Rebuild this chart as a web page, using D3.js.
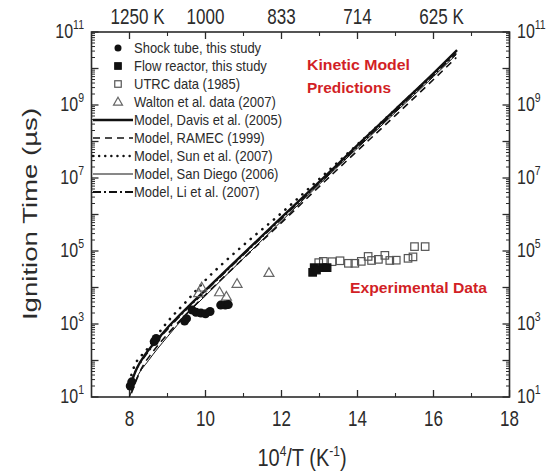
<!DOCTYPE html>
<html>
<head>
<meta charset="utf-8">
<script src="https://cdn.jsdelivr.net/npm/d3@7/dist/d3.min.js"></script>
<style>
  body { margin: 0; background: #fff; }
  svg { display: block; font-family: "Liberation Sans", Arial, sans-serif; }
</style>
</head>
<body>
<svg id="chart" width="550" height="472"></svg>
<script>
// donnees : x = 10^4/T (1/K), y = temps d'allumage (microsecondes)
const shockTubeX = [8.02, 8.06, 8.65, 8.7, 9.45, 9.5, 9.65, 9.75, 9.88, 10.0, 10.12, 10.4, 10.52, 10.6];
const shockTubeY = [20, 26, 330, 400, 1200, 1400, 2400, 2100, 2000, 1900, 2200, 3300, 3300, 3400];

const flowReactorX = [12.82, 12.86, 12.92, 13.08, 13.2];
const flowReactorY = [26000, 35000, 30000, 35000, 35000];

const utrcX = [12.98, 13.1, 13.33, 13.54, 13.76, 13.93, 14.1, 14.28, 14.37, 14.55, 14.72, 14.85, 15.02, 15.33, 15.46, 15.5, 15.78];
const utrcY = [48000, 52000, 51000, 54000, 46000, 46000, 52000, 71000, 55000, 59000, 76000, 55000, 56000, 63000, 69000, 132000, 132000];

const waltonX = [9.82, 9.9, 10.37, 10.55, 10.83, 11.67];
const waltonY = [7000, 10000, 7400, 5600, 12600, 25000];

// courbes des modeles
const davisX = [8.0, 8.1, 8.2, 8.4, 8.6, 8.8, 9.0, 9.3, 9.6, 10, 11, 12, 13, 14, 15, 16, 16.62];
const davisY = [16, 35, 63, 140, 260, 450, 790, 1660, 3400, 8500, 85000, 8.3e5, 7.9e6, 7.9e7, 7.6e8, 7.4e9, 3.2e10];

const ramecX = [8.05, 8.3, 8.6, 9, 9.5, 10, 11, 12, 13, 14, 15, 16, 16.6];
const ramecY = [12.6, 56, 166, 525, 1900, 6300, 63000, 6e5, 5.9e6, 5.6e7, 5.2e8, 5e9, 2e10];

const sunX = [8.05, 8.1, 8.45, 9, 9.5, 10, 10.5, 11, 12, 13, 14, 15, 16, 16.6];
const sunY = [40, 59, 195, 1150, 4200, 16000, 50000, 145000, 1.1e6, 9.5e6, 8.3e7, 7.6e8, 7.1e9, 2.8e10];

const sanDiegoX = [8.0, 8.1, 8.2, 8.5, 9, 9.5, 10, 11, 12, 13, 14, 15, 16, 16.6];
const sanDiegoY = [10, 20, 35, 100, 450, 1800, 6000, 63000, 6.6e5, 6.8e6, 6.6e7, 6.3e8, 6e9, 2.4e10];

const liX = [8.0, 8.1, 8.3, 8.6, 9, 9.5, 10, 11, 12, 13, 14, 15, 16, 16.6];
const liY = [18, 38, 89, 240, 710, 2500, 7900, 79000, 7.6e5, 7.4e6, 7.1e7, 6.8e8, 6.6e9, 2.6e10];

// graduations
const xMajor = [8, 10, 12, 14, 16, 18];
const xMinor = [9, 11, 13, 15, 17];
const topTicks = [8, 10, 12, 14, 16];
const topLabels = ["1250", "1000", "833", "714", "625"];
const topUnits = ["\u00A0K", "", "", "", "\u00A0K"];
const yExponents = [1, 2, 3, 4, 5, 6, 7, 8, 9, 10, 11];
const yLabelExponents = [1, 3, 5, 7, 9, 11];

const legendLabels = [
  "Shock tube, this study",
  "Flow reactor, this study",
  "UTRC data (1985)",
  "Walton et al. data (2007)",
  "Model, Davis et al. (2005)",
  "Model, RAMEC (1999)",
  "Model, Sun et al. (2007)",
  "Model, San Diego (2006)",
  "Model, Li et al. (2007)",
];

const svg = d3.select("#chart");
const ink = "#2b2b2b";
const plotL = 91.5, plotR = 509.5, plotT = 32, plotB = 397;

const x = d3.scaleLinear().domain([7, 18]).range([plotL, plotR]);
const y = d3.scaleLog().domain([10, 1e11]).range([plotB, plotT]);

// texte un peu etire verticalement comme sur l'image
function label(g, px, py, str, size, anchor, sy) {
  return g.append("text")
    .attr("transform", `translate(${px},${py}) scale(1,${sy || 1.25})`)
    .attr("text-anchor", anchor || "middle")
    .attr("font-size", size)
    .attr("fill", ink)
    .text(str);
}

// ticks mineurs de l'axe log
const yMinor = [];
yExponents.forEach((e) => {
  if (e < 11) for (let k = 2; k <= 9; k++) yMinor.push(k * Math.pow(10, e));
});
const yMajorVals = yExponents.map((e) => Math.pow(10, e));

function drawYTicks(px, dir) {
  yMajorVals.forEach((v) => {
    svg.append("line").attr("x1", px).attr("x2", px + dir * 7)
      .attr("y1", y(v)).attr("y2", y(v)).attr("stroke", ink).attr("stroke-width", 1.3);
  });
  yMinor.forEach((v) => {
    svg.append("line").attr("x1", px).attr("x2", px + dir * 3.5)
      .attr("y1", y(v)).attr("y2", y(v)).attr("stroke", ink).attr("stroke-width", 1);
  });
}
function drawXTicks(py, dir) {
  xMajor.forEach((v) => {
    svg.append("line").attr("x1", x(v)).attr("x2", x(v))
      .attr("y1", py).attr("y2", py + dir * 7).attr("stroke", ink).attr("stroke-width", 1.3);
  });
  xMinor.forEach((v) => {
    svg.append("line").attr("x1", x(v)).attr("x2", x(v))
      .attr("y1", py).attr("y2", py + dir * 4).attr("stroke", ink).attr("stroke-width", 1.1);
  });
}

drawYTicks(plotL, 1);
drawYTicks(plotR, -1);
drawXTicks(plotB, -1);
drawXTicks(plotT, 1);

svg.append("rect")
  .attr("x", plotL).attr("y", plotT)
  .attr("width", plotR - plotL).attr("height", plotB - plotT)
  .attr("fill", "none").attr("stroke", ink).attr("stroke-width", 1.6);

// etiquettes axe x
xMajor.forEach((v) => label(svg, x(v), 426, String(v), 17, "middle"));

// etiquettes du haut (temperatures)
topTicks.forEach((v, i) => {
  const t = label(svg, x(v), 24, topLabels[i], 17, "middle");
  if (topUnits[i]) {
    const w = t.node().getComputedTextLength();
    label(svg, x(v) + w / 2, 24, topUnits[i], 17, "start");
  }
});

// etiquettes puissances de 10
function powerLabel(px, py, e, anchor) {
  const t = svg.append("text")
    .attr("transform", `translate(${px},${py}) scale(1,1.25)`)
    .attr("text-anchor", anchor)
    .attr("font-size", 16)
    .attr("fill", ink);
  t.append("tspan").text("10");
  t.append("tspan").attr("font-size", 10.5).attr("dy", -7).text(String(e));
}
yLabelExponents.forEach((e) => {
  powerLabel(84, y(Math.pow(10, e)) + 6, e, "end");
  powerLabel(517, y(Math.pow(10, e)) + 6, e, "start");
});

// titres des axes
const xt = svg.append("text")
  .attr("transform", "translate(302,466) scale(1,1.15)")
  .attr("text-anchor", "middle").attr("font-size", 20).attr("fill", ink);
xt.append("tspan").text("10");
xt.append("tspan").attr("font-size", 12).attr("dy", -9).text("4");
xt.append("tspan").attr("dy", 9).text("/T (K");
xt.append("tspan").attr("font-size", 12).attr("dy", -9).text("-1");
xt.append("tspan").attr("dy", 9).text(")");

svg.append("text")
  .attr("transform", "translate(37,214) rotate(-90) scale(1.38,1)")
  .attr("text-anchor", "middle").attr("font-size", 20).attr("fill", ink)
  .text("Ignition Time (\u00B5s)");

// courbes des modeles
const models = [
  { xs: ramecX, ys: ramecY, w: 1.6, dash: "7,5", cap: "butt" },
  { xs: sunX, ys: sunY, w: 2.6, dash: "0.1,7.5", cap: "round" },
  { xs: sanDiegoX, ys: sanDiegoY, w: 1, dash: null, cap: "butt" },
  { xs: liX, ys: liY, w: 1.5, dash: "8,3,2,3", cap: "butt" },
  { xs: davisX, ys: davisY, w: 2.4, dash: null, cap: "butt" },
];
const line = d3.line()
  .x((d) => x(d[0]))
  .y((d) => y(d[1]))
  .curve(d3.curveMonotoneX);

models.forEach((m) => {
  svg.append("path")
    .datum(m.xs.map((v, i) => [v, m.ys[i]]))
    .attr("d", line)
    .attr("fill", "none")
    .attr("stroke", "#111")
    .attr("stroke-width", m.w)
    .attr("stroke-linecap", m.cap)
    .attr("stroke-dasharray", m.dash);
});

// symboles
function circle(g, cx, cy, r) {
  g.append("circle").attr("cx", cx).attr("cy", cy).attr("r", r).attr("fill", "#111");
}
function square(g, cx, cy, s, filled) {
  g.append("rect").attr("x", cx - s / 2).attr("y", cy - s / 2)
    .attr("width", s).attr("height", s)
    .attr("fill", filled ? "#111" : "none")
    .attr("stroke", filled ? "#111" : "#555")
    .attr("stroke-width", 1.2);
}
function triangle(g, cx, cy, s) {
  const h = s * 0.87;
  g.append("path")
    .attr("d", `M${cx},${cy - h * 0.6}L${cx + s / 2},${cy + h * 0.4}L${cx - s / 2},${cy + h * 0.4}Z`)
    .attr("fill", "none").attr("stroke", "#666").attr("stroke-width", 1.2);
}

utrcX.forEach((v, i) => square(svg, x(v), y(utrcY[i]), 7.5, false));
waltonX.forEach((v, i) => triangle(svg, x(v), y(waltonY[i]), 10));
flowReactorX.forEach((v, i) => square(svg, x(v), y(flowReactorY[i]), 7.5, true));
shockTubeX.forEach((v, i) => circle(svg, x(v), y(shockTubeY[i]), 4.5));

// legende
const leg = svg.append("g");
const rowY = (i) => 48 + i * 18;
legendLabels.forEach((t, i) => {
  label(leg, 134, rowY(i) + 4.5, t, 13, "start", 1.15);
});
circle(leg, 118, rowY(0), 3.5);
square(leg, 118, rowY(1), 6.5, true);
square(leg, 118, rowY(2), 6.5, false);
triangle(leg, 118, rowY(3), 9);
const legLines = [
  { w: 2.4, dash: null, cap: "butt" },
  { w: 1.6, dash: "7,5", cap: "butt" },
  { w: 2.4, dash: "0.1,6", cap: "round" },
  { w: 1, dash: null, cap: "butt" },
  { w: 1.8, dash: "8,3,2,3", cap: "butt" },
];
legLines.forEach((m, i) => {
  leg.append("line")
    .attr("x1", 93).attr("x2", 133)
    .attr("y1", rowY(i + 4)).attr("y2", rowY(i + 4))
    .attr("stroke", "#111").attr("stroke-width", m.w)
    .attr("stroke-linecap", m.cap)
    .attr("stroke-dasharray", m.dash);
});

// annotations en rouge
function redText(px, py, str, len) {
  svg.append("text")
    .attr("x", px).attr("y", py)
    .attr("font-size", 15).attr("font-weight", "bold")
    .attr("fill", "#d21f26")
    .attr("textLength", len).attr("lengthAdjust", "spacingAndGlyphs")
    .text(str);
}
redText(307, 70, "Kinetic Model", 103);
redText(307, 93, "Predictions", 84);
redText(350, 293, "Experimental Data", 137);
</script>
</body>
</html>
